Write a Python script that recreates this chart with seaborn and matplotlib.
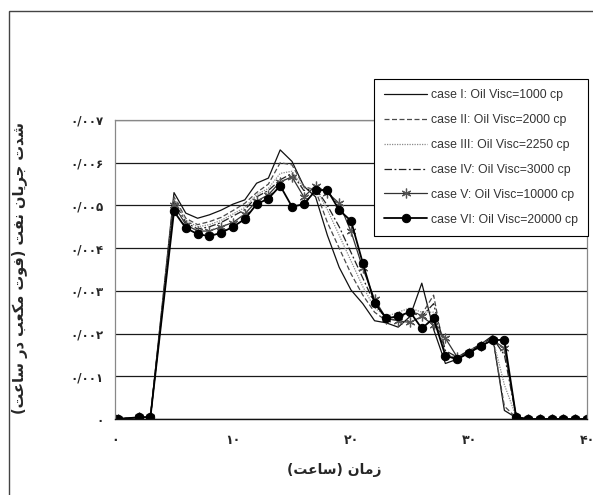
import unicodedata
import pandas as pd
import matplotlib
matplotlib.use('Agg')
import matplotlib.pyplot as plt
import seaborn as sns
from matplotlib.patches import Rectangle

# time (hours)
hours = [0, 0.25, 2, 3, 5, 6, 7, 8, 9, 10, 11, 12, 13, 14, 15, 16, 17, 18, 19, 20,
         21, 22, 23, 24, 25, 26, 27, 28, 29, 30, 31, 32, 33, 34, 35, 36, 37, 38, 39, 40]

# oil rate, in units of 0.001 ft3/hr
case1 = [0, 0, 0.04, 0.04, 5.30, 4.82, 4.70, 4.78, 4.89, 5.03, 5.13, 5.52, 5.64, 6.30, 6.03, 5.45,
         5.20, 4.30, 3.55, 3.02, 2.70, 2.30, 2.25, 2.15, 2.40, 3.18, 2.10, 1.30, 1.40, 1.55, 1.75,
         1.95, 0.20, 0.03, 0, 0, 0, 0, 0, 0]
case2 = [0, 0, 0.04, 0.04, 5.20, 4.70, 4.55, 4.62, 4.72, 4.88, 5.05, 5.30, 5.50, 6.00, 5.95, 5.45,
         5.35, 4.60, 4.00, 3.40, 2.90, 2.50, 2.30, 2.35, 2.50, 2.45, 2.90, 1.45, 1.45, 1.60, 1.75,
         1.90, 0.30, 0.03, 0, 0, 0, 0, 0, 0]
case3 = [0, 0, 0.04, 0.04, 5.15, 4.65, 4.50, 4.55, 4.65, 4.80, 4.95, 5.25, 5.40, 5.75, 5.80, 5.40,
         5.40, 4.90, 4.30, 3.70, 3.10, 2.60, 2.40, 2.50, 2.60, 2.50, 2.50, 1.50, 1.45, 1.60, 1.75,
         1.90, 0.80, 0.05, 0, 0, 0, 0, 0, 0]
case4 = [0, 0, 0.04, 0.04, 5.10, 4.60, 4.45, 4.50, 4.60, 4.75, 4.90, 5.20, 5.35, 5.60, 5.75, 5.35,
         5.40, 5.00, 4.50, 3.90, 3.30, 2.70, 2.35, 2.40, 2.50, 2.40, 2.70, 1.60, 1.45, 1.60, 1.75,
         1.90, 1.50, 0.05, 0, 0, 0, 0, 0, 0]
case5 = [0, 0, 0.04, 0.04, 5.00, 4.55, 4.40, 4.40, 4.50, 4.60, 4.80, 5.10, 5.25, 5.55, 5.67, 5.20,
         5.46, 5.30, 5.05, 4.39, 3.53, 2.80, 2.35, 2.30, 2.26, 2.40, 2.20, 1.89, 1.45, 1.55, 1.70,
         1.85, 1.66, 0.05, 0, 0, 0, 0, 0, 0]
case6 = [0, 0, 0.04, 0.04, 4.86, 4.47, 4.33, 4.28, 4.36, 4.50, 4.68, 5.03, 5.16, 5.46, 4.97, 5.03,
         5.35, 5.36, 4.89, 4.64, 3.65, 2.71, 2.36, 2.40, 2.51, 2.12, 2.36, 1.48, 1.40, 1.55, 1.71,
         1.85, 1.85, 0.04, 0, 0, 0, 0, 0, 0]

labels = ['case I: Oil Visc=1000 cp', 'case II: Oil Visc=2000 cp', 'case III: Oil Visc=2250 cp',
          'case IV: Oil Visc=3000 cp', 'case V: Oil Visc=10000 cp', 'case VI: Oil Visc=20000 cp']
series = [case1, case2, case3, case4, case5, case6]

x_ticks = [0, 10, 20, 30, 40]
y_ticks = [0, 0.001, 0.002, 0.003, 0.004, 0.005, 0.006, 0.007]

x_title = 'زمان (ساعت)'
y_title = 'شدت جریان نفت (فوت مکعب در ساعت)'

# --- simple arabic/persian shaping (no arabic_reshaper available) ---
forms = {}
for cp in list(range(0xFE70, 0xFF00)) + list(range(0xFB50, 0xFE00)):
    d = unicodedata.decomposition(chr(cp)).split()
    if len(d) == 2 and d[0] in ('<isolated>', '<final>', '<initial>', '<medial>'):
        forms.setdefault(chr(int(d[1], 16)), {}).setdefault(d[0][1:-1], chr(cp))

def shape(s):
    out = []
    for i, c in enumerate(s):
        if c not in forms:
            out.append(c)
            continue
        prev = s[i - 1] if i > 0 else ''
        nxt = s[i + 1] if i + 1 < len(s) else ''
        jp = prev in forms and 'initial' in forms[prev]
        jn = 'initial' in forms[c] and nxt in forms
        f = forms[c]
        if jp and jn:
            out.append(f.get('medial', f['isolated']))
        elif jp:
            out.append(f.get('final', f['isolated']))
        elif jn:
            out.append(f.get('initial', f['isolated']))
        else:
            out.append(f['isolated'])
    vis = ''.join(out)[::-1]
    return vis.translate(str.maketrans('()', ')('))

fa_digits = str.maketrans('0123456789', '۰۱۲۳۴۵۶۷۸۹')

def fa_num(v):
    if v == 0:
        return '0'.translate(fa_digits)
    if float(v).is_integer():
        return str(int(v)).translate(fa_digits)
    return f'{v:.3f}'.replace('.', '/').translate(fa_digits)

# --- data frame ---
rows = []
for lab, vals in zip(labels, series):
    for h, v in zip(hours, vals):
        rows.append({'hour': h, 'rate': v / 1000.0, 'case': lab})
df = pd.DataFrame(rows)

sns.set_style('white')
plt.rcParams['font.family'] = ['DejaVu Sans']

fig = plt.figure(figsize=(5.93, 4.95), dpi=100, facecolor='white')
ax = fig.add_axes([115 / 593, 76 / 495, 472 / 593, 299 / 495])

styles = [
    dict(color='#111111', linestyle='-', lw=0.9),
    dict(color='#4a4a4a', linestyle=(0, (4, 2)), lw=0.9),
    dict(color='#8a8a8a', linestyle=(0, (1, 1)), lw=0.9),
    dict(color='#222222', linestyle=(0, (6, 2, 1.5, 2)), lw=0.9),
    dict(color='#333333', linestyle='-', lw=0.9, marker=(6, 2, 0), markersize=7,
         markeredgecolor='#555555', markeredgewidth=0.9),
    dict(color='#000000', linestyle='-', lw=1.3, marker='o', markersize=6,
         markerfacecolor='black', markeredgecolor='black'),
]

for lab, st in zip(labels, styles):
    sns.lineplot(data=df[df['case'] == lab], x='hour', y='rate', ax=ax, label=lab,
                 estimator=None, sort=False, **st)

ax.set_xlim(0, 40)
ax.set_ylim(0, 0.007)
ax.set_xticks(x_ticks)
ax.set_yticks(y_ticks)
ax.set_xticklabels([fa_num(v) for v in x_ticks], fontweight='bold', fontsize=9)
ax.set_yticklabels([fa_num(v) for v in y_ticks], fontweight='bold', fontsize=8.5)
ax.yaxis.grid(True, color='#1a1a1a', lw=0.9)
ax.set_axisbelow(True)
ax.tick_params(axis='x', direction='out', length=4, width=0.8, color='#333333', pad=7)
ax.tick_params(axis='y', direction='out', length=4, width=0.8, color='#aaaaaa', pad=4)

for side in ['left', 'right', 'top']:
    ax.spines[side].set_color('#888888')
    ax.spines[side].set_linewidth(0.9)
ax.spines['bottom'].set_color('#111111')
ax.spines['bottom'].set_linewidth(1.0)

ax.set_xlabel(shape(x_title), fontweight='bold', fontsize=10)
ax.xaxis.set_label_coords((334 - 115) / 472, -(463 - 419) / 299)
ax.set_ylabel('')
fig.text(20 / 593, 1 - 268 / 495, shape(y_title), rotation=90, ha='center', va='center',
         fontweight='bold', fontsize=10.5)

leg = ax.legend(loc='upper left', bbox_to_anchor=(374 / 593, 1 - 79 / 495),
                bbox_transform=fig.transFigure, frameon=True, fancybox=False,
                framealpha=1, edgecolor='black', prop={'family': 'Liberation Sans', 'size': 8.8},
                handlelength=3.5, handletextpad=0.3, labelspacing=1.05, borderpad=0.85,
                borderaxespad=0)
leg.get_frame().set_linewidth(0.8)
for t in leg.get_texts():
    t.set_color('#333333')

# outer frame of the picture
fig.patches.append(Rectangle((9 / 593, -0.1), 1.2, 1 - 11 / 495 + 0.1, transform=fig.transFigure,
                             fill=False, edgecolor='#444444', lw=1.0))

fig.savefig('out.png', dpi=100)
